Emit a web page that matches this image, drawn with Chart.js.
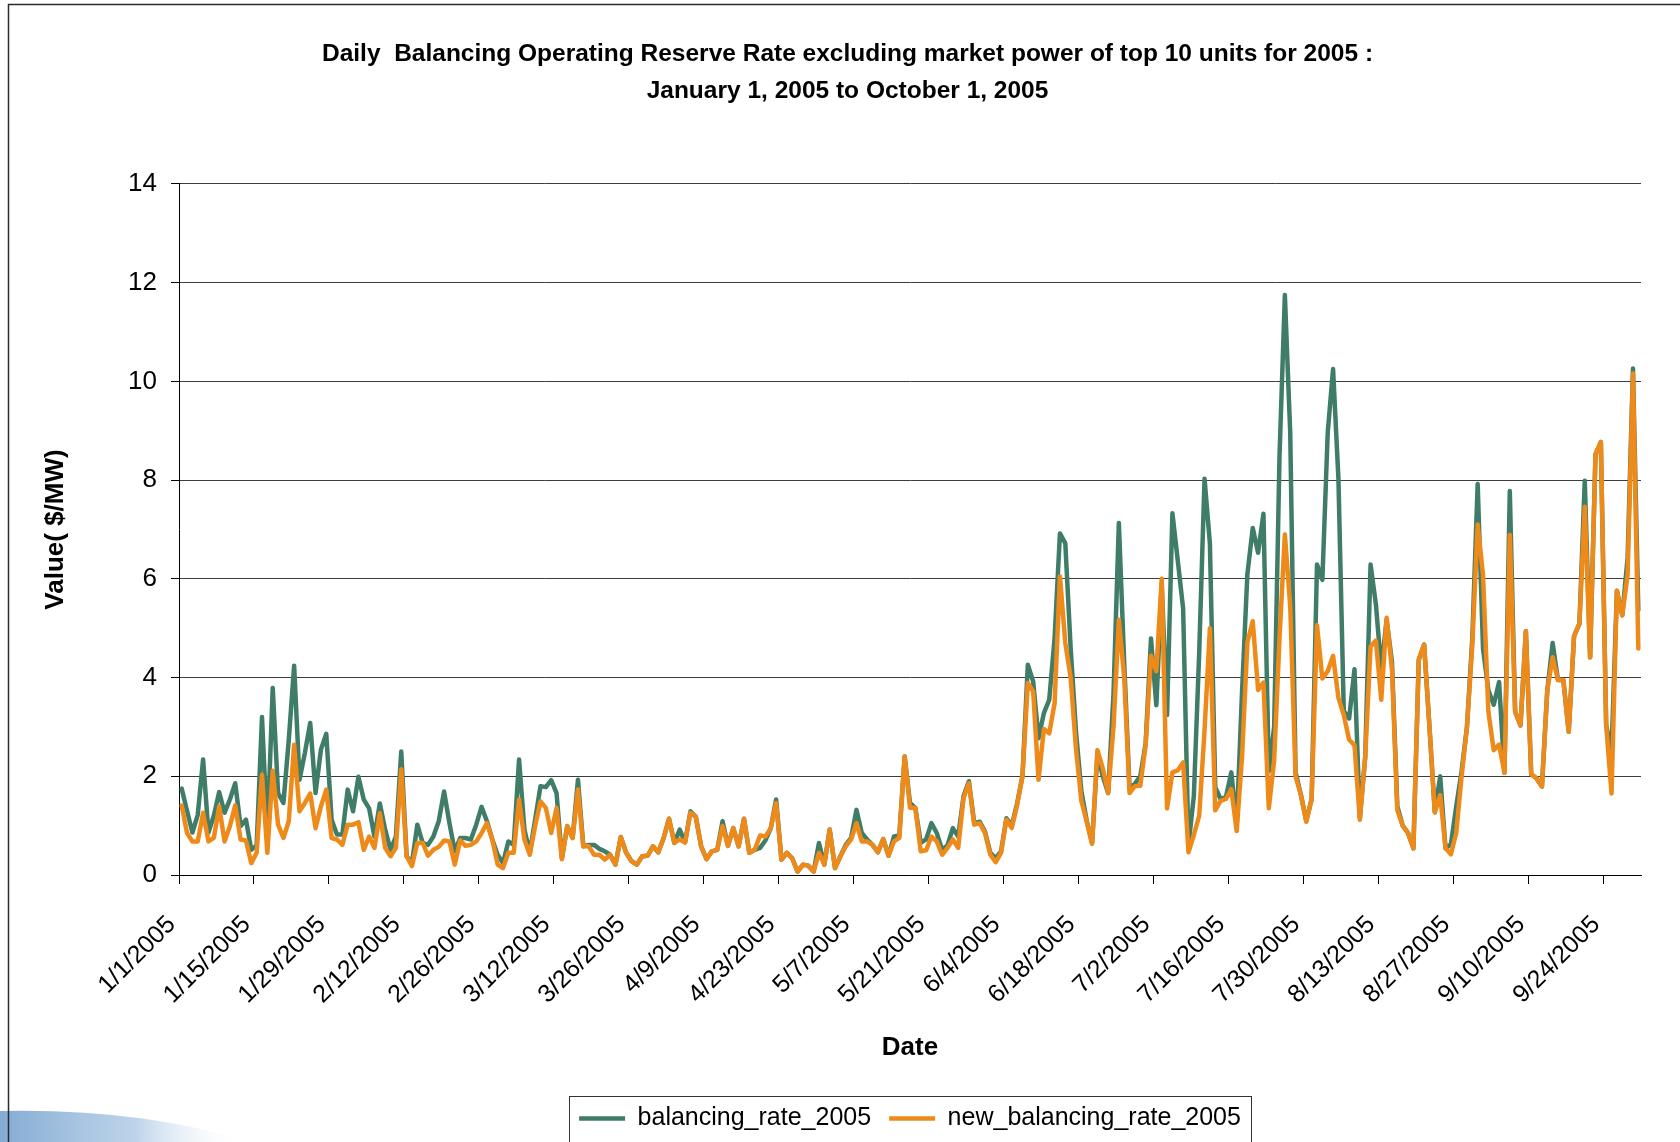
<!DOCTYPE html>
<html>
<head>
<meta charset="utf-8">
<script src="https://cdn.jsdelivr.net/npm/chart.js@4.4.1/dist/chart.umd.min.js"></script>
<style>
  html, body { margin: 0; padding: 0; background: #ffffff; }
  #wrap { width: 1680px; height: 1142px; }
</style>
</head>
<body>
<div id="wrap"><canvas id="c" width="1680" height="1142"></canvas></div>
<script>
// ---------------- data ----------------
const START_YEAR = 2005;
const DAY_COUNT = 273;          // 1/1/2005 .. 9/30/2005
const TICK_STEP_DAYS = 14;      // a date label every 14 days

const seriesNames = ['balancing_rate_2005', 'new_balancing_rate_2005'];

const balancingRate = [
  1.75, 1.3, 0.86, 1.22, 2.34, 0.86, 1.2, 1.68, 1.26, 1.53,
  1.86, 0.99, 1.12, 0.51, 0.6, 3.2, 0.8, 3.79, 1.66, 1.46,
  2.74, 4.24, 1.93, 2.47, 3.08, 1.66, 2.54, 2.86, 1.12, 0.82,
  0.82, 1.73, 1.29, 1.99, 1.53, 1.35, 0.78, 1.45, 0.92, 0.51,
  0.78, 2.5, 0.38, 0.24, 1.02, 0.65, 0.61, 0.78, 1.09, 1.69,
  1.05, 0.48, 0.75, 0.75, 0.72, 1.02, 1.38, 1.09, 0.72, 0.41,
  0.24, 0.68, 0.61, 2.34, 0.92, 0.45, 1.12, 1.8, 1.78, 1.92,
  1.66, 0.34, 0.99, 0.75, 1.93, 0.58, 0.61, 0.61, 0.53, 0.48,
  0.41, 0.21, 0.77, 0.45, 0.28, 0.21, 0.38, 0.39, 0.58, 0.46,
  0.75, 1.14, 0.65, 0.92, 0.66, 1.29, 1.18, 0.58, 0.32, 0.48,
  0.51, 1.09, 0.59, 0.95, 0.58, 1.14, 0.45, 0.51, 0.55, 0.7,
  0.95, 1.53, 0.31, 0.45, 0.34, 0.07, 0.21, 0.19, 0.07, 0.65,
  0.21, 0.92, 0.14, 0.38, 0.61, 0.75, 1.32, 0.85, 0.72, 0.61,
  0.46, 0.73, 0.39, 0.78, 0.8, 2.4, 1.46, 1.36, 0.65, 0.72,
  1.05, 0.85, 0.51, 0.6, 0.95, 0.78, 1.6, 1.9, 1.05, 1.08,
  0.88, 0.45, 0.34, 0.48, 1.15, 1.0, 1.45, 2.0, 4.26, 3.92,
  2.77, 3.28, 3.55, 4.8, 6.92, 6.72, 4.6, 2.9, 1.7, 1.1,
  0.65, 2.45, 2.0, 1.66, 3.67, 7.13, 4.3, 1.75, 1.85, 2.0,
  2.66, 4.79, 3.44, 5.9, 3.24, 7.33, 6.37, 5.4, 0.6, 1.6,
  4.5, 8.03, 6.72, 1.78, 1.54, 1.58, 2.08, 1.0, 3.7, 6.1,
  7.03, 6.53, 7.32, 2.1, 3.0, 8.5, 11.75, 8.96, 2.08, 1.62,
  1.1, 1.54, 6.29, 5.98, 8.96, 10.25, 8.03, 3.32, 3.17, 4.17,
  1.16, 2.39, 6.29, 5.48, 4.17, 5.17, 4.32, 1.39, 1.0, 0.85,
  0.54, 4.36, 4.67, 3.0, 1.27, 2.0, 0.54, 0.62, 1.39, 2.1,
  3.0, 4.8, 7.92, 4.59, 3.74, 3.45, 3.91, 2.07, 7.78, 3.31,
  3.03, 4.94, 2.04, 1.96, 1.79, 3.74, 4.7, 3.95, 3.95, 2.9,
  4.84, 5.09, 7.99, 4.41, 8.52, 8.77, 3.03, 2.5, 5.76, 5.26,
  6.43, 10.26, 5.37
];

const newBalancingRate = [
  1.41, 0.85, 0.68, 0.68, 1.26, 0.68, 0.75, 1.39, 0.68, 0.99,
  1.41, 0.72, 0.7, 0.24, 0.45, 2.03, 0.45, 2.11, 1.02, 0.75,
  1.09, 2.64, 1.29, 1.46, 1.65, 0.95, 1.39, 1.73, 0.75, 0.72,
  0.61, 1.02, 1.02, 1.07, 0.51, 0.78, 0.55, 1.25, 0.55, 0.38,
  0.55, 2.14, 0.38, 0.18, 0.65, 0.65, 0.39, 0.51, 0.57, 0.7,
  0.68, 0.21, 0.7, 0.59, 0.61, 0.68, 0.85, 1.05, 0.72, 0.21,
  0.14, 0.45, 0.45, 1.53, 0.72, 0.41, 0.99, 1.49, 1.36, 0.85,
  1.36, 0.32, 0.99, 0.75, 1.73, 0.58, 0.58, 0.41, 0.41, 0.31,
  0.41, 0.21, 0.77, 0.45, 0.28, 0.21, 0.38, 0.39, 0.58, 0.46,
  0.75, 1.14, 0.65, 0.72, 0.66, 1.26, 1.18, 0.58, 0.32, 0.48,
  0.51, 0.99, 0.59, 0.95, 0.58, 1.14, 0.45, 0.51, 0.8, 0.78,
  0.95, 1.46, 0.31, 0.45, 0.34, 0.07, 0.21, 0.19, 0.07, 0.45,
  0.21, 0.92, 0.14, 0.38, 0.58, 0.72, 1.05, 0.68, 0.68, 0.61,
  0.46, 0.73, 0.39, 0.68, 0.75, 2.4, 1.36, 1.36, 0.48, 0.5,
  0.78, 0.68, 0.41, 0.55, 0.72, 0.55, 1.56, 1.86, 1.02, 1.05,
  0.85, 0.41, 0.26, 0.45, 1.12, 0.95, 1.42, 2.0, 3.89, 3.72,
  1.93, 2.96, 2.87, 3.48, 6.05, 4.7, 4.0, 2.55, 1.5, 1.08,
  0.63, 2.53, 2.16, 1.66, 3.0, 5.17, 4.0, 1.66, 1.8, 1.81,
  2.63, 4.44, 4.13, 6.0, 1.35, 2.08, 2.12, 2.28, 0.46, 0.81,
  1.2, 2.93, 5.0, 1.31, 1.5, 1.54, 1.74, 0.89, 2.39, 4.71,
  5.14, 3.75, 3.9, 1.35, 2.32, 4.8, 6.9, 5.45, 2.0, 1.62,
  1.08, 1.54, 5.06, 3.98, 4.13, 4.44, 3.59, 3.24, 2.74, 2.63,
  1.12, 2.39, 4.63, 4.75, 3.55, 5.21, 4.17, 1.31, 1.0, 0.85,
  0.54, 4.36, 4.67, 3.0, 1.27, 1.62, 0.54, 0.42, 0.85, 2.0,
  3.0, 4.66, 7.1, 6.08, 3.31, 2.53, 2.64, 2.07, 6.89, 3.31,
  3.03, 4.94, 2.04, 1.96, 1.79, 3.74, 4.41, 3.95, 3.95, 2.9,
  4.84, 5.09, 7.46, 4.41, 8.52, 8.77, 3.03, 1.65, 5.76, 5.26,
  6.08, 10.16, 4.59
];

// categories: one per day, written like 1/15/2005
const dateLabels = [];
for (let i = 0; i < DAY_COUNT; i++) {
  const d = new Date(START_YEAR, 0, 1 + i);
  dateLabels.push((d.getMonth() + 1) + '/' + d.getDate() + '/' + d.getFullYear());
}

const titleLines = [
  'Daily  Balancing Operating Reserve Rate excluding market power of top 10 units for 2005 :',
  'January 1, 2005 to October 1, 2005'
];
const xTitle = 'Date';
const yTitle = 'Value( $/MW)';
const yTicks = { min: 0, max: 14, step: 2 };

// ---------------- styling ----------------
const FONT = "'Liberation Sans Narrow', 'Arial Narrow', 'Liberation Sans', sans-serif";
const GREEN = '#3f7d69';
const ORANGE = '#ee8a1a';

Chart.defaults.font.family = FONT;
Chart.defaults.color = '#000000';

const backdropPlugin = {
  id: 'backdrop',
  beforeDraw(chart) {
    const ctx = chart.ctx, W = chart.width, H = chart.height;
    ctx.save();
    ctx.fillStyle = '#ffffff';
    ctx.fillRect(0, 0, W, H);
    // light blue decorative swoosh at bottom-left
    const g = ctx.createLinearGradient(0, 0, 245, 0);
    g.addColorStop(0, 'rgba(132,172,212,1)');
    g.addColorStop(0.55, 'rgba(172,200,228,0.8)');
    g.addColorStop(1, 'rgba(255,255,255,0)');
    ctx.fillStyle = g;
    ctx.beginPath();
    ctx.moveTo(0, H);
    ctx.lineTo(0, 1111);
    ctx.quadraticCurveTo(140, 1108, 250, H);
    ctx.closePath();
    ctx.fill();
    // frame lines (left + top)
    ctx.strokeStyle = '#2b2b2b';
    ctx.lineWidth = 1.5;
    ctx.beginPath();
    ctx.moveTo(8.5, H);
    ctx.lineTo(8.5, 4.5);
    ctx.lineTo(W, 4.5);
    ctx.stroke();
    ctx.restore();
  }
};

const legendBoxPlugin = {
  id: 'legendBox',
  afterDraw(chart) {
    const lg = chart.legend;
    if (!lg || !lg.legendHitBoxes || !lg.legendHitBoxes.length) return;
    const hb = lg.legendHitBoxes;
    let x0 = Infinity, x1 = -Infinity, y0 = Infinity, y1 = -Infinity;
    hb.forEach(b => {
      x0 = Math.min(x0, b.left); x1 = Math.max(x1, b.left + b.width);
      y0 = Math.min(y0, b.top); y1 = Math.max(y1, b.top + b.height);
    });
    const ctx = chart.ctx;
    ctx.save();
    ctx.strokeStyle = '#333333';
    ctx.lineWidth = 1;
    ctx.strokeRect(Math.round(x0 - 10) + 0.5, Math.round(y0 - 10.5) + 0.5,
                   Math.round(x1 - x0 + 20), Math.round(y1 - y0 + 21));
    ctx.restore();
  }
};

const ctx = document.getElementById('c').getContext('2d');
new Chart(ctx, {
  type: 'line',
  data: {
    labels: dateLabels,
    datasets: [
      {
        label: seriesNames[0],
        data: balancingRate,
        borderColor: GREEN,
        backgroundColor: GREEN,
        borderWidth: 4.5,
        pointRadius: 0,
        tension: 0,
        borderJoinStyle: 'round',
        borderCapStyle: 'round',
        order: 2
      },
      {
        label: seriesNames[1],
        data: newBalancingRate,
        borderColor: ORANGE,
        backgroundColor: ORANGE,
        borderWidth: 4.5,
        pointRadius: 0,
        tension: 0,
        borderJoinStyle: 'round',
        borderCapStyle: 'round',
        order: 1
      }
    ]
  },
  options: {
    responsive: false,
    animation: false,
    devicePixelRatio: 1,
    layout: { padding: { left: 15, right: 0, top: 0, bottom: 1 } },
    plugins: {
      title: {
        display: true,
        text: titleLines,
        color: '#000',
        font: { size: 24.5, weight: 'bold', lineHeight: 1.51 },
        padding: { top: 36, bottom: 74 }
      },
      legend: {
        display: true,
        position: 'bottom',
        fullSize: false,
        labels: {
          usePointStyle: true,
          pointStyle: 'line',
          pointStyleWidth: 46,
          padding: 18,
          color: '#000',
          font: { size: 25 },
          sort: (a, b) => a.datasetIndex - b.datasetIndex
        }
      },
      tooltip: { enabled: false }
    },
    scales: {
      x: {
        type: 'category',
        offset: true,
        grid: {
          display: true,
          offset: true,
          drawOnChartArea: false,
          drawTicks: true,
          tickLength: 9,
          tickColor: (c) => (c.index % TICK_STEP_DAYS === 0 && c.index < DAY_COUNT) ? '#000' : 'rgba(0,0,0,0)'
        },
        border: { display: true, color: '#000', width: 1 },
        ticks: {
          autoSkip: false,
          minRotation: 45,
          maxRotation: 45,
          padding: 26,
          labelOffset: -10,
          color: '#000',
          font: { size: 25 },
          callback: function (value, index) {
            return index % TICK_STEP_DAYS === 0 ? dateLabels[index] : '';
          }
        },
        title: {
          display: true,
          text: xTitle,
          color: '#000',
          font: { size: 26, weight: 'bold', lineHeight: 1.2 },
          padding: { top: 0, bottom: 24.4 }
        },
        afterFit: (s) => { s.height = 213; s.paddingRight = 0; }
      },
      y: {
        min: yTicks.min,
        max: yTicks.max,
        position: 'left',
        grid: {
          color: '#3c3c3c',
          lineWidth: 1,
          drawTicks: true,
          tickLength: 8,
          tickColor: '#000'
        },
        border: { display: true, color: '#000', width: 1 },
        ticks: {
          stepSize: yTicks.step,
          padding: 14,
          color: '#000',
          font: { size: 26 }
        },
        title: {
          display: true,
          text: yTitle,
          color: '#000',
          font: { size: 26, weight: 'bold', lineHeight: 1.2 },
          padding: { top: 25.5, bottom: 0 }
        },
        afterFit: (s) => { s.width = 164; }
      },
      yRightSpacer: {
        position: 'right',
        display: true,
        grid: { display: false, drawTicks: false },
        border: { display: false },
        ticks: { display: false },
        afterFit: (s) => { s.width = 39; }
      }
    }
  },
  plugins: [backdropPlugin, legendBoxPlugin]
});
</script>
</body>
</html>
